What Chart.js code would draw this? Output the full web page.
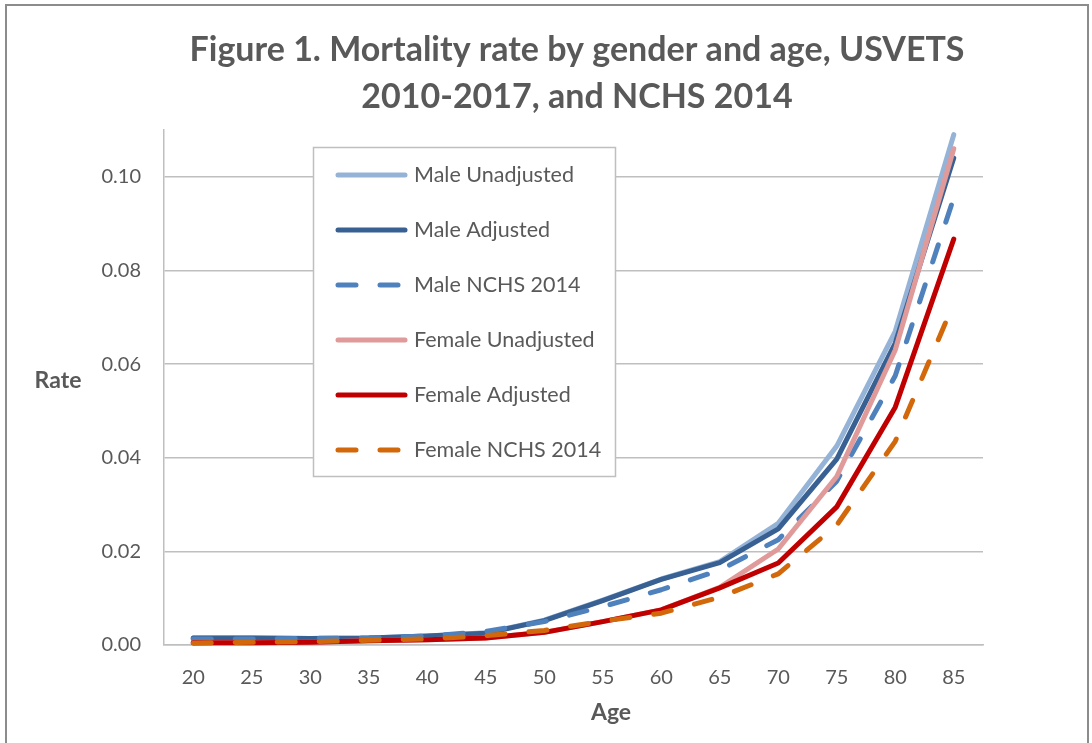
<!DOCTYPE html>
<html>
<head>
    <title>Mortality rate by gender and age</title>
    <script src="https://cdn.jsdelivr.net/npm/chart.js"></script>
    <style>
        body { margin: 0; background: #fff; }
    </style>
</head>
<body>
    <canvas id="mortalityChart" width="1092" height="743"></canvas>

    <script>
        // Age groups on the x axis
        const ages = ['20', '25', '30', '35', '40', '45', '50', '55', '60', '65', '70', '75', '80', '85'];

        // Rates
        const maleUnadjusted   = [0.0015, 0.0015, 0.0014, 0.0015, 0.0019, 0.0026, 0.0053, 0.0096, 0.0141, 0.0178, 0.0260, 0.0425, 0.0670, 0.1090];
        const maleAdjusted     = [0.0015, 0.0015, 0.0014, 0.0015, 0.0019, 0.0025, 0.0052, 0.0095, 0.0140, 0.0176, 0.0248, 0.0397, 0.0645, 0.1040];
        const maleNchs         = [0.0013, 0.0013, 0.0014, 0.0015, 0.0019, 0.0029, 0.0050, 0.0082, 0.0118, 0.0160, 0.0225, 0.0350, 0.0575, 0.0955];
        const femaleUnadjusted = [0.0005, 0.0005, 0.0006, 0.0009, 0.0011, 0.0015, 0.0027, 0.0050, 0.0075, 0.0123, 0.0205, 0.0360, 0.0630, 0.1060];
        const femaleAdjusted   = [0.0005, 0.0005, 0.0006, 0.0009, 0.0011, 0.0015, 0.0027, 0.0050, 0.0075, 0.0122, 0.0175, 0.0295, 0.0508, 0.0867];
        const femaleNchs       = [0.0004, 0.0006, 0.0007, 0.0010, 0.0013, 0.0020, 0.0031, 0.0051, 0.0068, 0.0102, 0.0152, 0.0256, 0.0435, 0.0730];

        const yTickValues = [0, 0.02, 0.04, 0.06, 0.08, 0.10];

        const TEXT = '#595959';
        const GRID = '#bfbfbf';
        const FONT = 'Lato, "Open Sans", sans-serif';

        function series(label, data, color, dashed, order) {
            return {
                label: label,
                data: data,
                borderColor: color,
                backgroundColor: color,
                borderWidth: 5,
                borderDash: dashed ? [18, 24] : [],
                borderCapStyle: 'round',
                borderJoinStyle: 'round',
                pointRadius: 0,
                tension: 0,
                fill: false,
                order: order
            };
        }

        // extra drawing: frame, title, axis titles, boxed legend
        const decorations = {
            id: 'decorations',
            beforeDraw(chart) {
                const ctx = chart.ctx;
                ctx.save();
                ctx.fillStyle = '#fff';
                ctx.fillRect(0, 0, chart.width, chart.height);
                ctx.strokeStyle = '#8c8c8c';
                ctx.lineWidth = 2;
                ctx.strokeRect(6, 5, 1082, 760);
                ctx.restore();
            },
            afterDraw(chart) {
                const ctx = chart.ctx;
                ctx.save();
                ctx.fillStyle = TEXT;
                ctx.textAlign = 'center';
                ctx.textBaseline = 'middle';
                ctx.font = 'bold 34px ' + FONT;
                ctx.fillText('Figure 1. Mortality rate by gender and age, USVETS', 577, 50);
                ctx.fillText('2010-2017, and NCHS 2014', 577, 97);

                ctx.font = 'bold 23px ' + FONT;
                ctx.fillText('Rate', 58, 381);
                ctx.fillText('Age', 611, 713);

                // legend box
                ctx.fillStyle = '#fff';
                ctx.fillRect(313, 147, 302, 329);
                ctx.strokeStyle = GRID;
                ctx.lineWidth = 1.5;
                ctx.strokeRect(313.5, 147.5, 302, 329);

                ctx.textAlign = 'left';
                ctx.font = '21.5px ' + FONT;
                chart.data.datasets.forEach((ds, i) => {
                    const y = 175 + i * 55;
                    ctx.beginPath();
                    ctx.strokeStyle = ds.borderColor;
                    ctx.lineWidth = ds.borderWidth;
                    ctx.lineCap = 'round';
                    ctx.setLineDash(ds.borderDash);
                    ctx.moveTo(338, y);
                    ctx.lineTo(405, y);
                    ctx.stroke();
                    ctx.setLineDash([]);
                    ctx.fillStyle = TEXT;
                    ctx.fillText(ds.label, 414, y);
                });
                ctx.restore();
            }
        };

        const ctx = document.getElementById('mortalityChart').getContext('2d');
        new Chart(ctx, {
            type: 'line',
            data: {
                labels: ages,
                datasets: [
                    series('Male Unadjusted', maleUnadjusted, '#95b3d7', false, 6),
                    series('Male Adjusted', maleAdjusted, '#386092', false, 5),
                    series('Male NCHS 2014', maleNchs, '#4f81bd', true, 4),
                    series('Female Unadjusted', femaleUnadjusted, '#df9a99', false, 3),
                    series('Female Adjusted', femaleAdjusted, '#c00000', false, 2),
                    series('Female NCHS 2014', femaleNchs, '#d2680a', true, 1)
                ]
            },
            options: {
                responsive: false,
                animation: false,
                clip: false,
                layout: { padding: { top: 130, right: 109, left: 0, bottom: 0 } },
                plugins: {
                    legend: { display: false },
                    title: { display: false },
                    tooltip: { enabled: false }
                },
                scales: {
                    x: {
                        offset: true,
                        grid: { display: false },
                        border: { color: GRID, width: 1.5 },
                        ticks: {
                            color: TEXT,
                            font: { family: FONT, size: 20 },
                            padding: 13,
                            maxRotation: 0
                        },
                        afterFit(scale) { scale.height = 98; }
                    },
                    y: {
                        min: 0,
                        max: 0.11,
                        grid: { color: GRID, lineWidth: 1.5, drawTicks: false },
                        border: { color: GRID, width: 1.5 },
                        ticks: {
                            color: TEXT,
                            font: { family: FONT, size: 20 },
                            padding: 23,
                            callback: (v) => Number(v).toFixed(2)
                        },
                        afterBuildTicks(scale) {
                            scale.ticks = yTickValues.map(v => ({ value: v }));
                        },
                        afterFit(scale) { scale.width = 164; }
                    }
                }
            },
            plugins: [decorations]
        });
    </script>
</body>
</html>
